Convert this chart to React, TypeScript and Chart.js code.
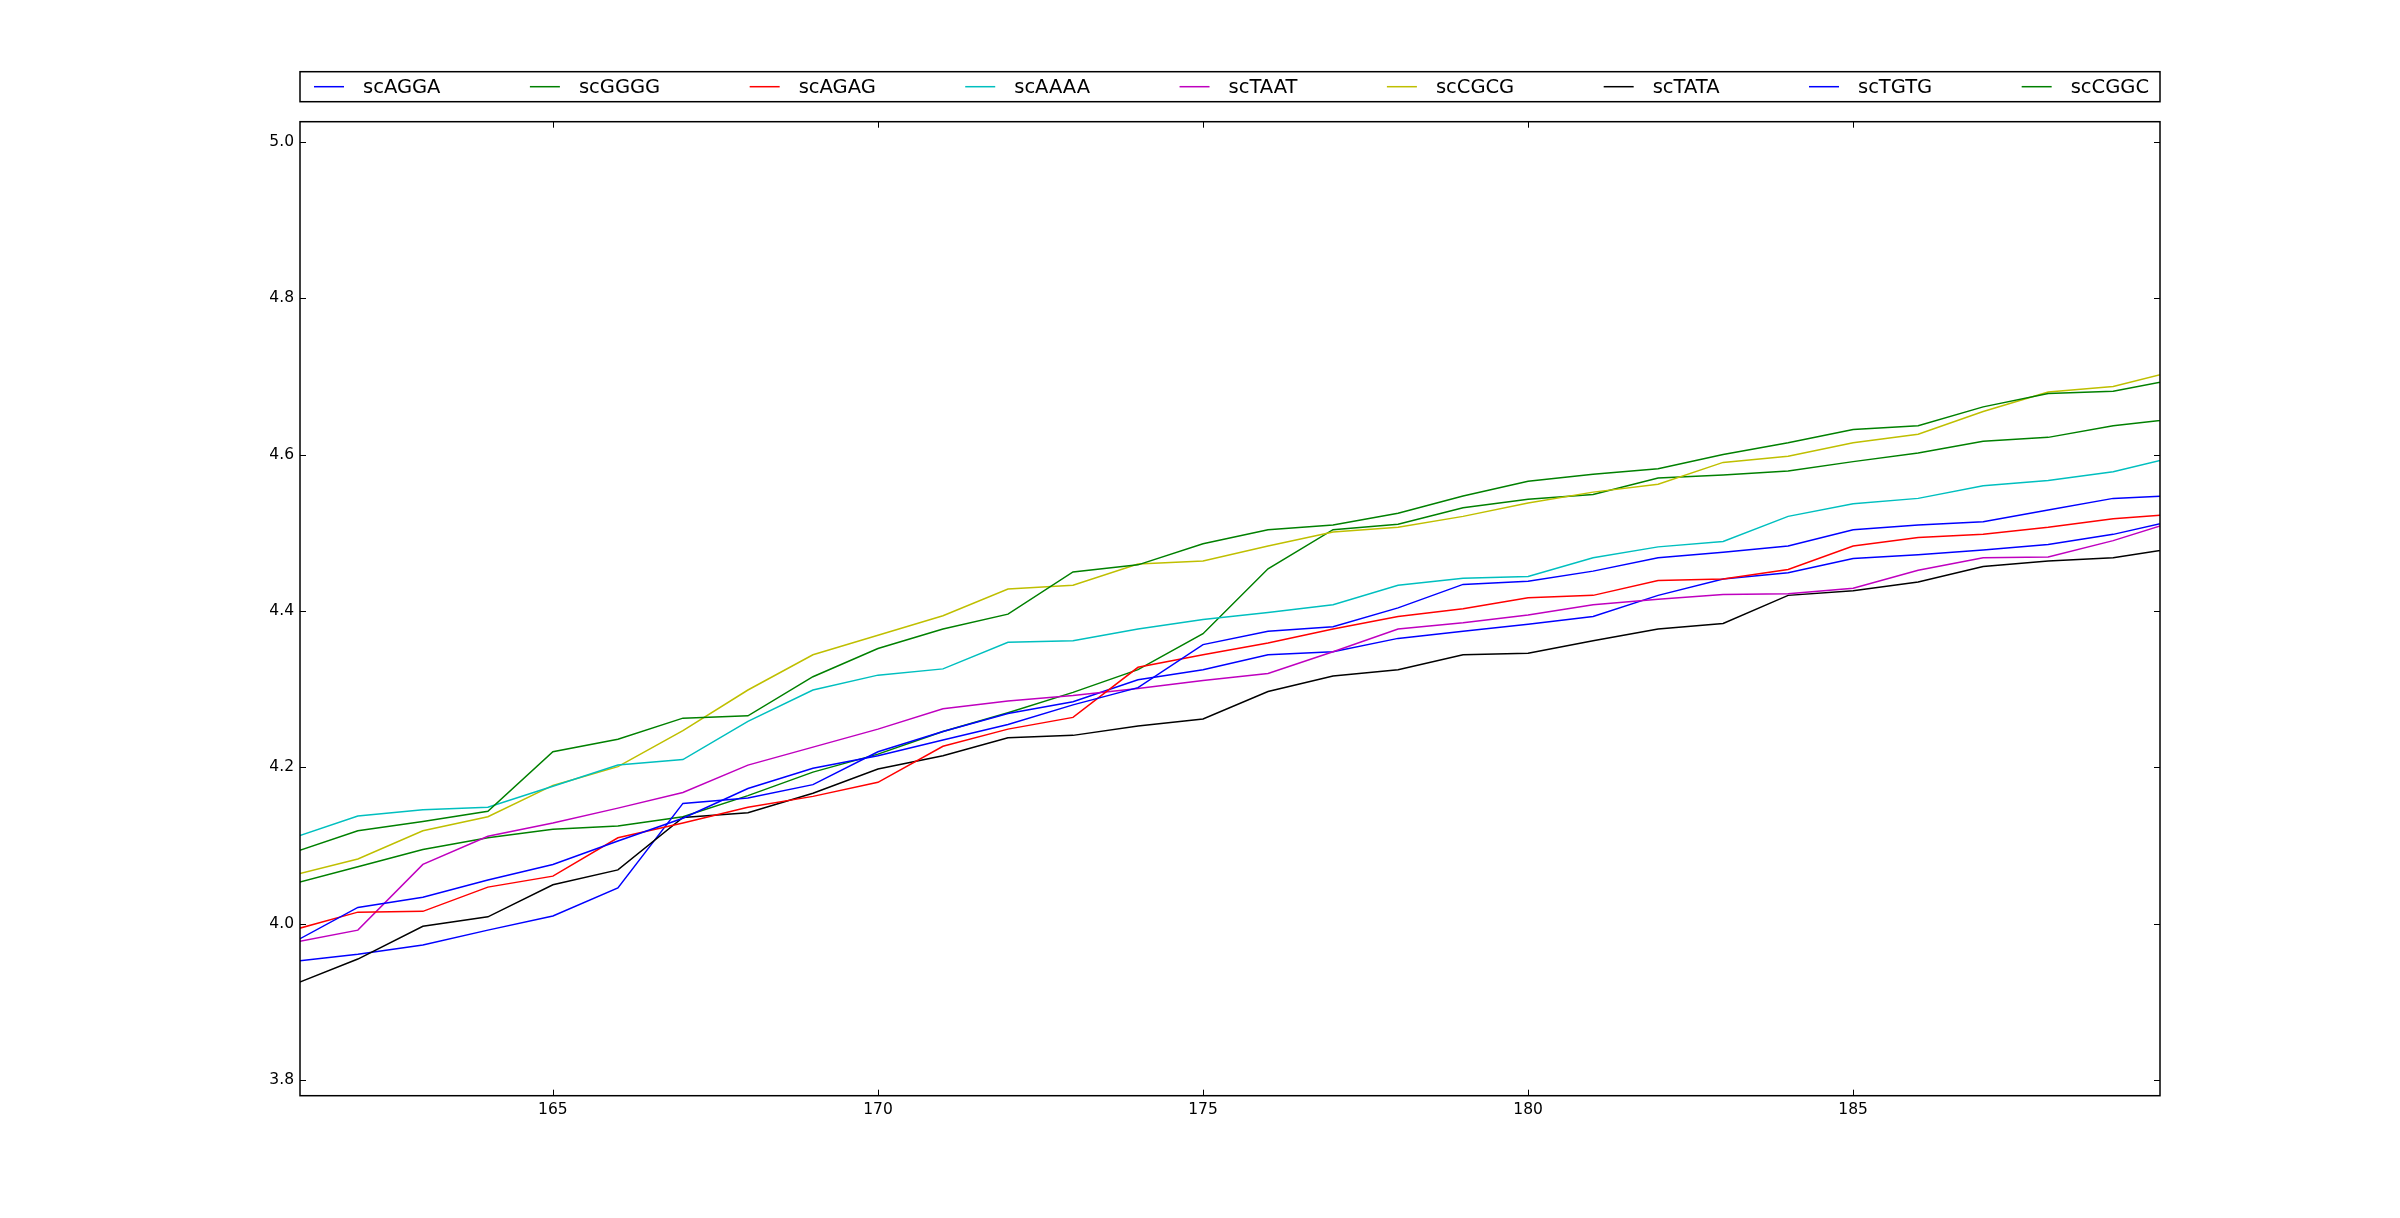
import { useEffect, useRef } from "react";
import { Chart, registerables } from "chart.js";

Chart.register(...registerables);

const X_VALUES = [161, 162, 163, 164, 165, 166, 167, 168, 169, 170, 171, 172, 173, 174, 175, 176, 177, 178, 179, 180, 181, 182, 183, 184, 185, 186, 187, 188, 189, 190];

const SERIES_NAMES = ["scAGGA", "scGGGG", "scAGAG", "scAAAA", "scTAAT", "scCGCG", "scTATA", "scTGTG", "scCGGC"];

const scAGGA = [3.976, 4.021, 4.034, 4.056, 4.076, 4.106, 4.135, 4.173, 4.199, 4.215, 4.235, 4.255, 4.280, 4.302, 4.357, 4.374, 4.380, 4.404, 4.434, 4.438, 4.451, 4.468, 4.475, 4.483, 4.504, 4.510, 4.514, 4.529, 4.544, 4.548];
const scGGGG = [4.091, 4.119, 4.131, 4.144, 4.220, 4.236, 4.263, 4.266, 4.316, 4.352, 4.377, 4.396, 4.450, 4.459, 4.486, 4.504, 4.510, 4.525, 4.547, 4.566, 4.575, 4.582, 4.600, 4.615, 4.632, 4.637, 4.661, 4.678, 4.681, 4.697];
const scAGAG = [3.992, 4.015, 4.016, 4.047, 4.061, 4.110, 4.129, 4.149, 4.163, 4.181, 4.227, 4.249, 4.264, 4.328, 4.344, 4.359, 4.377, 4.393, 4.403, 4.417, 4.420, 4.439, 4.441, 4.453, 4.483, 4.494, 4.498, 4.507, 4.518, 4.524];
const scAAAA = [4.110, 4.138, 4.146, 4.149, 4.176, 4.203, 4.210, 4.259, 4.299, 4.318, 4.326, 4.360, 4.362, 4.377, 4.389, 4.398, 4.408, 4.433, 4.442, 4.444, 4.468, 4.482, 4.489, 4.521, 4.537, 4.544, 4.560, 4.567, 4.578, 4.598];
const scTAAT = [3.976, 3.992, 4.076, 4.112, 4.129, 4.148, 4.168, 4.203, 4.226, 4.249, 4.275, 4.285, 4.292, 4.301, 4.311, 4.320, 4.348, 4.377, 4.385, 4.395, 4.408, 4.415, 4.421, 4.422, 4.429, 4.452, 4.468, 4.469, 4.490, 4.516];
const scCGCG = [4.062, 4.083, 4.119, 4.137, 4.177, 4.201, 4.247, 4.299, 4.344, 4.369, 4.394, 4.428, 4.433, 4.460, 4.464, 4.483, 4.501, 4.507, 4.521, 4.538, 4.552, 4.562, 4.590, 4.598, 4.615, 4.626, 4.655, 4.680, 4.687, 4.708];
const scTATA = [3.922, 3.955, 3.997, 4.009, 4.050, 4.069, 4.136, 4.142, 4.167, 4.198, 4.215, 4.238, 4.241, 4.253, 4.262, 4.297, 4.317, 4.325, 4.344, 4.346, 4.362, 4.377, 4.384, 4.420, 4.426, 4.437, 4.457, 4.464, 4.468, 4.481];
const scTGTG = [3.952, 3.961, 3.973, 3.992, 4.010, 4.046, 4.154, 4.161, 4.178, 4.220, 4.246, 4.269, 4.284, 4.312, 4.325, 4.344, 4.348, 4.365, 4.374, 4.383, 4.393, 4.420, 4.441, 4.449, 4.467, 4.472, 4.478, 4.485, 4.498, 4.517];
const scCGGC = [4.051, 4.073, 4.095, 4.110, 4.121, 4.125, 4.137, 4.164, 4.194, 4.217, 4.246, 4.270, 4.296, 4.325, 4.371, 4.454, 4.504, 4.511, 4.532, 4.543, 4.549, 4.570, 4.574, 4.579, 4.591, 4.602, 4.617, 4.622, 4.637, 4.646];

const SERIES_VALUES = [scAGGA, scGGGG, scAGAG, scAAAA, scTAAT, scCGCG, scTATA, scTGTG, scCGGC];
const COLORS = ["#0000ff", "#008000", "#ff0000", "#00bfbf", "#bf00bf", "#bfbf00", "#000000", "#0000ff", "#008000"];

const X_TICKS = [165, 170, 175, 180, 185];
const Y_TICKS = [3.8, 4.0, 4.2, 4.4, 4.6, 4.8, 5.0];
const X_MIN = 161.11;
const X_MAX = 189.72;
const Y_MIN = 3.7803;
const Y_MAX = 5.0256;

const W = 2400;
const H = 1218;
const FONT = '"DejaVu Sans", sans-serif';

const framePlugin = {
  id: "frameAndLegend",
  afterDatasetsDraw(chart: any) {
    const { ctx, chartArea: a, scales } = chart;
    const xs = scales.x;
    const ys = scales.y;
    ctx.save();
    ctx.strokeStyle = "#000";
    ctx.lineWidth = 1.5;
    ctx.strokeRect(a.left, a.top, a.right - a.left, a.bottom - a.top);
    ctx.lineWidth = 1;
    const TL = 6;
    ctx.beginPath();
    for (const v of X_TICKS) {
      const px = Math.round(xs.getPixelForValue(v)) + 0.5;
      ctx.moveTo(px, a.bottom);
      ctx.lineTo(px, a.bottom - TL);
      ctx.moveTo(px, a.top);
      ctx.lineTo(px, a.top + TL);
    }
    for (const v of Y_TICKS) {
      const py = Math.round(ys.getPixelForValue(v)) + 0.5;
      ctx.moveTo(a.left, py);
      ctx.lineTo(a.left + TL, py);
      ctx.moveTo(a.right, py);
      ctx.lineTo(a.right - TL, py);
    }
    ctx.stroke();

    // legend box
    const boxTop = 71.7;
    const boxH = 30;
    const boxLeft = a.left;
    const boxW = a.right - a.left;
    ctx.lineWidth = 1.5;
    ctx.strokeRect(boxLeft, boxTop, boxW, boxH);
    ctx.font = `19.5px ${FONT}`;
    ctx.textBaseline = "middle";
    ctx.textAlign = "left";
    const handle = 30;
    const hgap = 19;
    const padL = 14;
    const padR = 11;
    const widths = SERIES_NAMES.map((n) => handle + hgap + ctx.measureText(n).width);
    const total = widths.reduce((s, w) => s + w, 0);
    const gap = (boxW - padL - padR - total) / (SERIES_NAMES.length - 1);
    let cx = boxLeft + padL;
    const cy = boxTop + boxH / 2;
    SERIES_NAMES.forEach((name, i) => {
      ctx.strokeStyle = COLORS[i];
      ctx.lineWidth = 1.5;
      ctx.beginPath();
      ctx.moveTo(cx, cy);
      ctx.lineTo(cx + handle, cy);
      ctx.stroke();
      ctx.fillStyle = "#000";
      ctx.fillText(name, cx + handle + hgap, cy + 1);
      cx += widths[i] + gap;
    });
    ctx.restore();
  },
};

export default function App() {
  const ref = useRef<HTMLCanvasElement | null>(null);
  useEffect(() => {
    if (!ref.current) return;
    const chart = new Chart(ref.current, {
      type: "line",
      data: {
        datasets: SERIES_NAMES.map((name, i) => ({
          label: name,
          data: X_VALUES.map((x, j) => ({ x, y: SERIES_VALUES[i][j] })),
          borderColor: COLORS[i],
          backgroundColor: COLORS[i],
          borderWidth: 1.5,
          pointRadius: 0,
          pointHoverRadius: 0,
          fill: false,
          tension: 0,
        })),
      },
      options: {
        animation: false,
        responsive: false,
        devicePixelRatio: 1,
        events: [],
        layout: { padding: { left: 0, right: 240, top: 121.7, bottom: 0 } },
        plugins: { legend: { display: false }, tooltip: { enabled: false }, title: { display: false } },
        scales: {
          x: {
            type: "linear",
            min: X_MIN,
            max: X_MAX,
            grid: { display: false, drawTicks: false },
            border: { display: false },
            afterBuildTicks: (s: any) => {
              s.ticks = X_TICKS.map((v) => ({ value: v }));
            },
            afterFit: (s: any) => {
              s.height = H - 1095.7;
            },
            ticks: {
              autoSkip: false,
              maxRotation: 0,
              padding: 5,
              color: "#000",
              font: { family: FONT, size: 15.5 },
              callback: (v: any) => String(v),
            },
          },
          y: {
            type: "linear",
            min: Y_MIN,
            max: Y_MAX,
            grid: { display: false, drawTicks: false },
            border: { display: false },
            afterBuildTicks: (s: any) => {
              s.ticks = Y_TICKS.map((v) => ({ value: v }));
            },
            afterFit: (s: any) => {
              s.width = 300;
            },
            ticks: {
              autoSkip: false,
              padding: 6,
              color: "#000",
              font: { family: FONT, size: 15.5 },
              callback: (v: any) => Number(v).toFixed(1),
            },
          },
        },
      },
      plugins: [framePlugin],
    });
    return () => chart.destroy();
  }, []);
  return (
    <div style={{ position: "fixed", left: 0, top: 0, width: W, height: H, background: "#fff" }}>
      <canvas ref={ref} width={W} height={H} style={{ display: "block", width: W, height: H }} />
    </div>
  );
}
